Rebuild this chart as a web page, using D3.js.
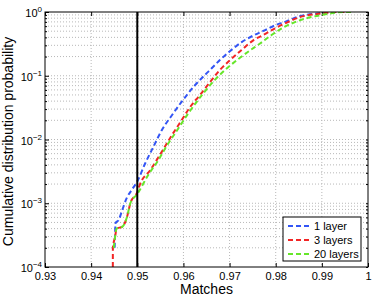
<!DOCTYPE html>
<meta charset="utf-8">
<script src="https://cdn.jsdelivr.net/npm/d3@7"></script>
<style>
  body { margin: 0; background: #fff; }
  text { font-family: "Liberation Sans", Arial, sans-serif; }
</style>
<div id="chart"></div>
<script>

// data
var xTicks = [0.93, 0.94, 0.95, 0.96, 0.97, 0.98, 0.99, 1];
var xTickLabels = ["0.93", "0.94", "0.95", "0.96", "0.97", "0.98", "0.99", "1"];
var yExponents = [0, -1, -2, -3, -4];
var seriesNames = ["1 layer", "3 layers", "20 layers"];
var seriesColors = ["#3355f5", "#f22525", "#66e62a"];
var threshold = 0.95;

var x1 = [0.9451, 0.9453, 0.9460, 0.9466, 0.9477, 0.9490, 0.9500, 0.9517, 0.9535, 0.9553, 0.9575, 0.9596, 0.9625, 0.9654, 0.9679, 0.9700, 0.9727, 0.9755, 0.9777, 0.9800, 0.9820, 0.9850, 0.9900, 0.9930, 0.9960];
var p1 = [2e-4, 4.9e-4, 5.5e-4, 7.3e-4, 1.2e-3, 1.7e-3, 2.2e-3, 4.2e-3, 7.7e-3, 0.014, 0.024, 0.039, 0.071, 0.116, 0.176, 0.24, 0.34, 0.44, 0.52, 0.625, 0.70, 0.85, 0.96, 1.0, 1.0];

var x3 = [0.9447, 0.94471, 0.9452, 0.9455, 0.9468, 0.9478, 0.9485, 0.9500, 0.9506, 0.9528, 0.9553, 0.9575, 0.9596, 0.9614, 0.9636, 0.9658, 0.9679, 0.9701, 0.9726, 0.9752, 0.9773, 0.9799, 0.9820, 0.9850, 0.9900, 0.9930, 0.9960];
var p3 = [1e-4, 2e-4, 3e-4, 4e-4, 4.3e-4, 6.2e-4, 1e-3, 1.5e-3, 2.0e-3, 3.3e-3, 6.4e-3, 0.0117, 0.020, 0.032, 0.050, 0.080, 0.123, 0.176, 0.253, 0.363, 0.435, 0.555, 0.66, 0.82, 0.95, 1.0, 1.0];

var x20 = [0.9449, 0.9452, 0.9455, 0.9468, 0.9478, 0.9485, 0.9500, 0.9524, 0.9546, 0.9564, 0.9585, 0.9611, 0.9643, 0.9668, 0.9690, 0.9716, 0.9741, 0.9766, 0.9791, 0.9820, 0.9850, 0.9900, 0.9950, 0.9970];
var p20 = [2e-4, 3e-4, 4e-4, 4.3e-4, 6.2e-4, 1e-3, 1.4e-3, 2.8e-3, 4.8e-3, 8.0e-3, 0.0135, 0.026, 0.053, 0.086, 0.123, 0.176, 0.24, 0.32, 0.435, 0.59, 0.73, 0.9, 1.0, 1.0];

var series = [[x1, p1], [x3, p3], [x20, p20]];

var margin = {top: 12, right: 6, bottom: 32, left: 45},
  width = 374 - margin.left - margin.right,
  height = 299 - margin.top - margin.bottom;

var svg = d3.select("#chart")
.append("svg")
  .attr("width", 374)
  .attr("height", 299)
.append("g")
  .attr("transform", "translate(" + margin.left + "," + margin.top + ")");

var x = d3.scaleLinear().domain([0.93, 1]).range([0, width]);
var y = d3.scaleLog().domain([1e-4, 1]).range([height, 0]);

// grid lines, dotted
var minor = [];
yExponents.forEach(function(e) {
  if (e === 0) return;
  for (var k = 1; k <= 9; k++) minor.push(k * Math.pow(10, e));
});
svg.append("g").selectAll("line")
  .data(minor.filter(function(v) { return v > 1e-4; }))
  .enter().append("line")
    .attr("x1", 0).attr("x2", width)
    .attr("y1", function(d) { return y(d); })
    .attr("y2", function(d) { return y(d); })
    .style("stroke", "#b8b8b8")
    .style("stroke-dasharray", "1,2");

svg.append("g").selectAll("line")
  .data(xTicks.slice(1, -1))
  .enter().append("line")
    .attr("x1", function(d) { return x(d); })
    .attr("x2", function(d) { return x(d); })
    .attr("y1", 0).attr("y2", height)
    .style("stroke", "#b8b8b8")
    .style("stroke-dasharray", "1,2");

// axes with inward ticks
var xAxis = svg.append("g")
  .attr("transform", "translate(0," + height + ")")
  .call(d3.axisBottom(x).tickValues(xTicks).tickSizeInner(-4).tickSizeOuter(0)
    .tickFormat(function(d, i) { return xTickLabels[i]; }));
xAxis.selectAll("text").attr("dy", "0.9em").style("font-size", "11px").attr("fill", "#000");

var yAxis = svg.append("g")
  .call(d3.axisLeft(y).tickValues(minor.concat([1])).tickSizeInner(-2).tickSizeOuter(0).tickFormat(""));
yAxis.selectAll(".tick line").filter(function(d) {
  return Math.abs(Math.log10(d) - Math.round(Math.log10(d))) < 1e-9;
}).attr("x2", 4);
[xAxis, yAxis].forEach(function(a) { a.select(".domain").remove(); });

svg.append("g").attr("transform", "translate(" + width + ",0)")
  .call(d3.axisRight(y).tickValues(minor.concat([1])).tickSizeInner(-2).tickSizeOuter(0).tickFormat(""))
  .call(function(g) { g.select(".domain").remove(); });
svg.append("g")
  .call(d3.axisTop(x).tickValues(xTicks).tickSizeInner(-4).tickSizeOuter(0).tickFormat(""))
  .call(function(g) { g.select(".domain").remove(); });

// y tick labels 10^e
var yl = svg.append("g").selectAll("text")
  .data(yExponents)
  .enter().append("text")
    .attr("x", -3)
    .attr("y", function(d) { return y(Math.pow(10, d)) + 5; })
    .attr("text-anchor", "end")
    .style("font-size", "11px");
yl.append("tspan").text("10");
yl.append("tspan").attr("dy", "-5").style("font-size", "8px")
  .text(function(d) { return d === 0 ? "0" : "\u2212" + (-d); });

// clip
svg.append("clipPath").attr("id", "clip")
  .append("rect").attr("width", width).attr("height", height);

var line = d3.line()
  .curve(d3.curveMonotoneX)
  .x(function(d) { return x(d[0]); })
  .y(function(d) { return y(d[1]); });

series.forEach(function(s, i) {
  var pts = s[0].map(function(v, j) { return [v, s[1][j]]; });
  svg.append("path")
    .datum(pts)
    .attr("clip-path", "url(#clip)")
    .attr("d", line)
    .style("fill", "none")
    .style("stroke", seriesColors[i])
    .style("stroke-width", 2)
    .style("stroke-dasharray", "5,3");
});

// threshold line
svg.append("line")
  .attr("x1", x(threshold)).attr("x2", x(threshold))
  .attr("y1", 0).attr("y2", height)
  .style("stroke", "#000")
  .style("stroke-width", 2);

// box
svg.append("rect")
  .attr("width", width).attr("height", height)
  .style("fill", "none").style("stroke", "#000").style("stroke-width", 1);

// legend
var lg = svg.append("g").attr("transform", "translate(" + (283 - margin.left) + "," + (217 - margin.top) + ")");
lg.append("rect").attr("width", 78).attr("height", 44)
  .style("fill", "#fff").style("stroke", "#000").style("stroke-width", 1);
seriesNames.forEach(function(n, i) {
  var yy = 9 + i * 14;
  lg.append("line").attr("x1", 5).attr("x2", 27).attr("y1", yy).attr("y2", yy)
    .style("stroke", seriesColors[i]).style("stroke-width", 2).style("stroke-dasharray", "5,3");
  lg.append("text").attr("x", 31).attr("y", yy + 4).style("font-size", "11px").text(n);
});

// axis labels
svg.append("text")
  .attr("x", width / 2).attr("y", height + 27)
  .attr("text-anchor", "middle").style("font-size", "14px")
  .text("Matches");
svg.append("text")
  .attr("transform", "translate(" + (-32) + "," + (height / 2 + 2) + ") rotate(-90)")
  .attr("text-anchor", "middle").style("font-size", "14px")
  .text("Cumulative distribution probability");

</script>
